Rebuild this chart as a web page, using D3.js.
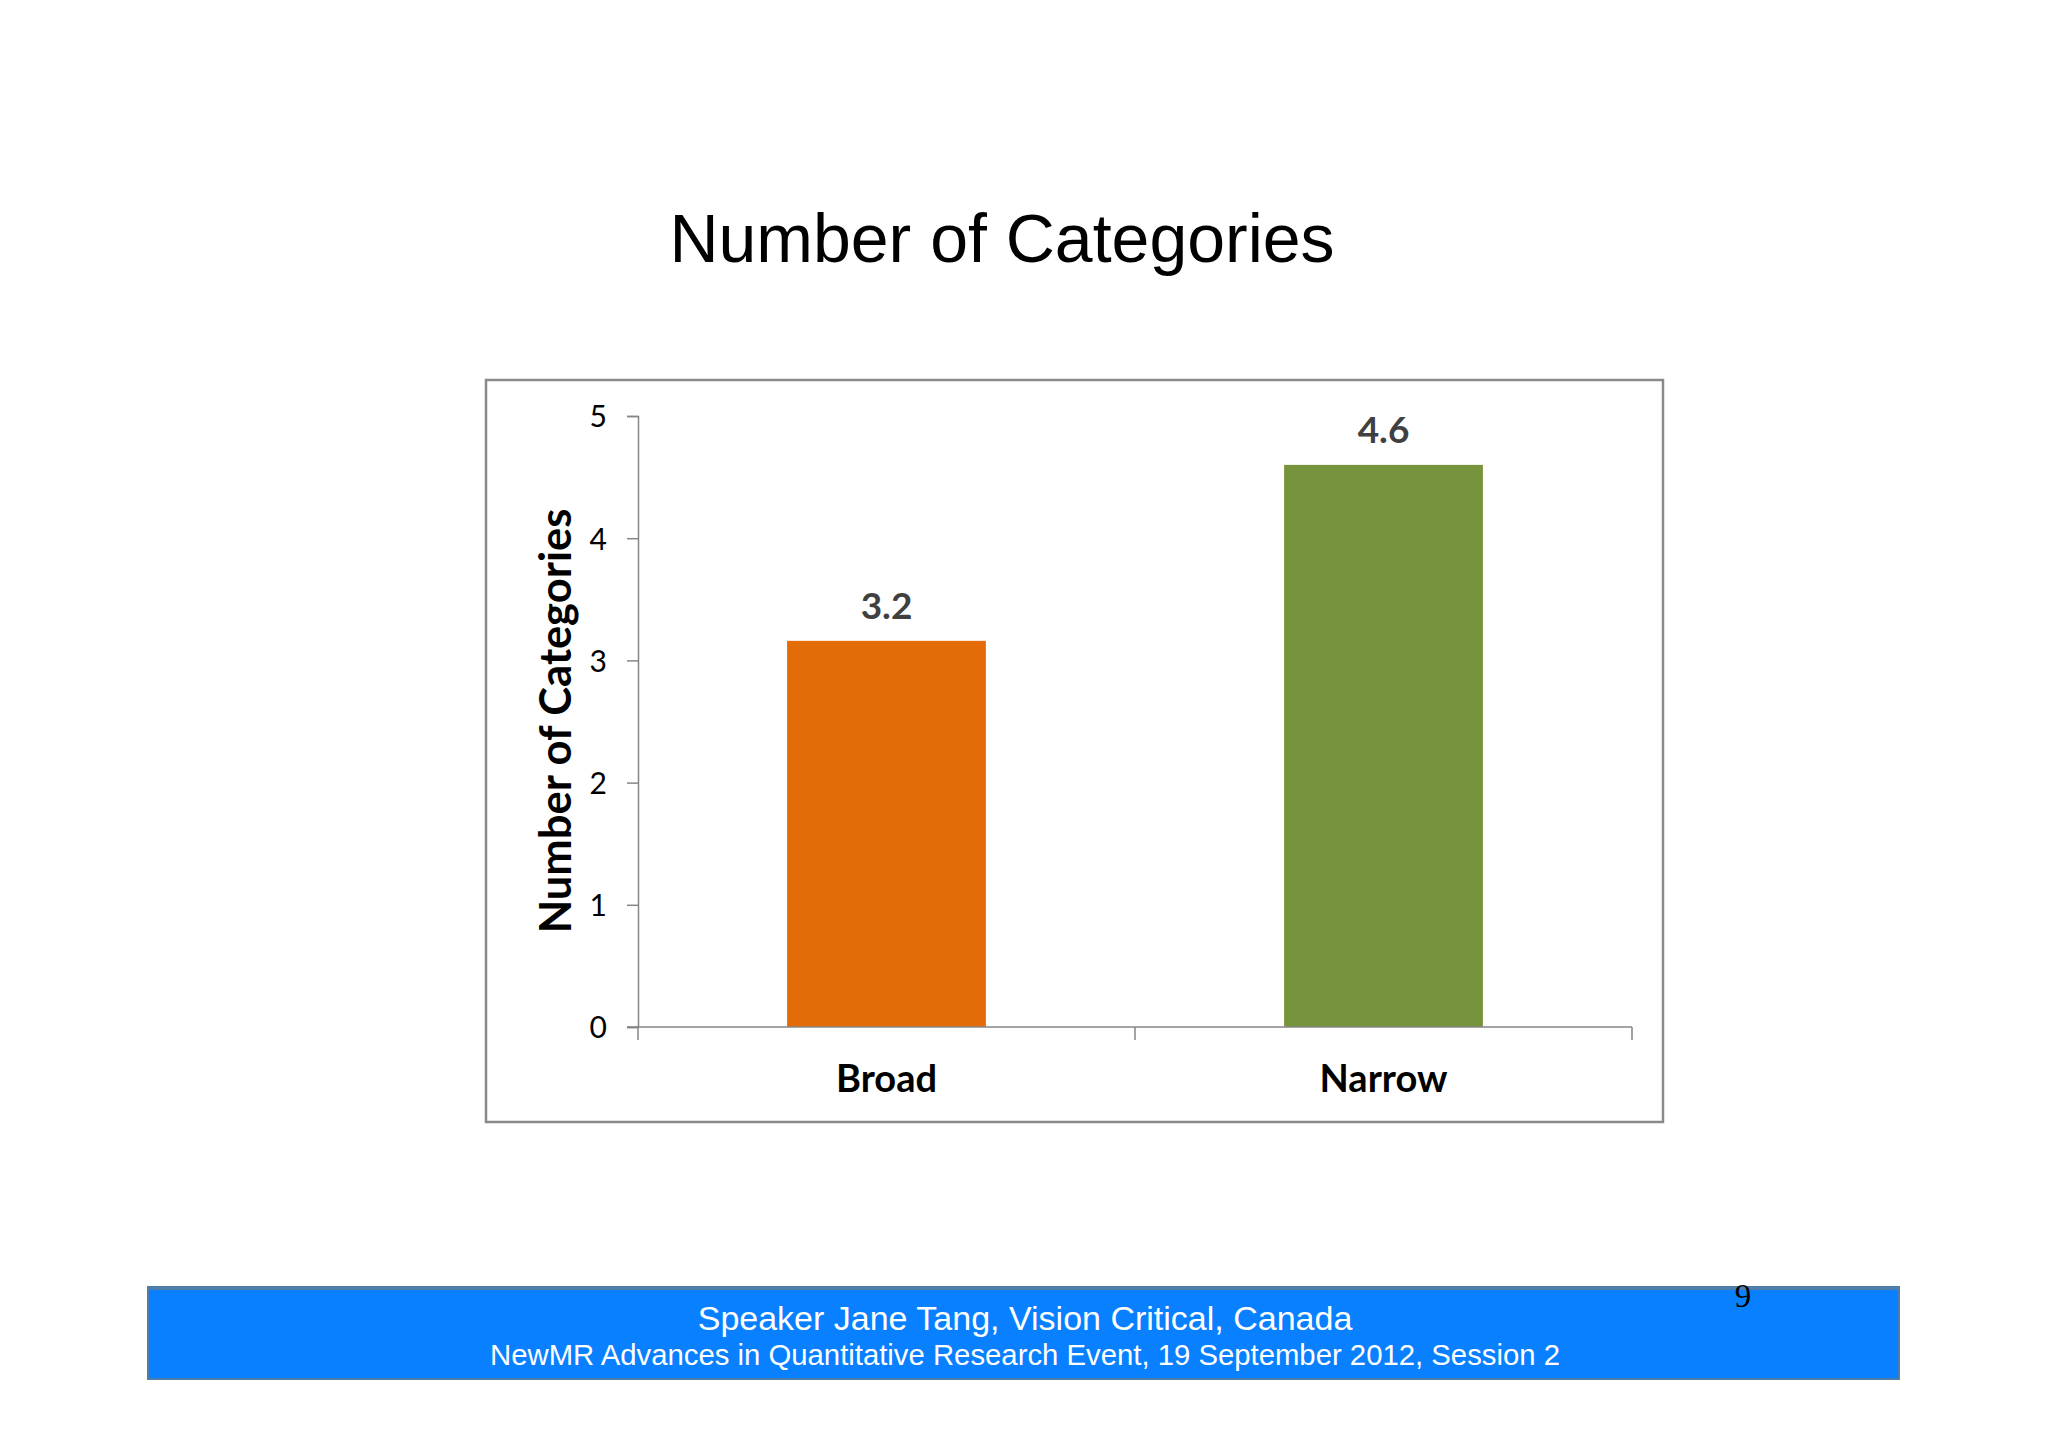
<!DOCTYPE html>
<html>
<head>
<meta charset="utf-8">
<script src="https://cdn.jsdelivr.net/npm/d3@7"></script>
<style>
  body { margin: 0; background: #ffffff; }
</style>
</head>
<body>
<div id="slide"></div>
<script>
const categories = ["Broad", "Narrow"];
const values = [3.16, 4.6];
const barColors = ["#e36c09", "#77933c"];
const yTicks = [0, 1, 2, 3, 4, 5];
const chartTitle = "Number of Categories";
const yAxisTitle = "Number of Categories";
const footerLines = [
    "Speaker Jane Tang, Vision Critical, Canada",
    "NewMR Advances in Quantitative Research Event, 19 September 2012, Session 2"
];
const pageNumber = "9";

function renderSlide(){
    const W = 2048, H = 1447;
    const plot = { left: 638, right: 1632, top: 416, bottom: 1027 };

    const svg = d3.select("#slide")
        .append("svg")
        .attr("width", W)
        .attr("height", H);

    svg.append("rect")
        .attr("width", W)
        .attr("height", H)
        .attr("fill", "#ffffff");

    // slide title
    svg.append("text")
        .attr("x", 1002)
        .attr("y", 262)
        .attr("text-anchor", "middle")
        .attr("font-family", "'Liberation Sans', Arial, sans-serif")
        .attr("font-size", 68)
        .attr("fill", "#000")
        .text(chartTitle);

    // chart frame
    svg.append("rect")
        .attr("x", 486)
        .attr("y", 380)
        .attr("width", 1177)
        .attr("height", 742)
        .attr("fill", "#ffffff")
        .attr("stroke", "#8a8a8a")
        .attr("stroke-width", 2.5);

    const x = d3.scaleBand()
        .domain(categories)
        .range([plot.left, plot.right])
        .padding(0);

    const y = d3.scaleLinear()
        .domain([0, 5])
        .range([plot.bottom, plot.top]);

    const barW = x.bandwidth() * 0.4;

    // y axis
    const yAxis = svg.append("g")
        .attr("transform", `translate(${plot.left},0)`)
        .call(d3.axisLeft(y).tickValues(yTicks).tickSize(11).tickPadding(20).tickFormat(d3.format("d")));
    yAxis.select(".domain").attr("stroke", "#868686").attr("stroke-width", 1.5);
    yAxis.selectAll(".tick line").attr("stroke", "#868686").attr("stroke-width", 1.5);
    yAxis.selectAll(".tick text")
        .attr("font-family", "Lato, 'Open Sans', sans-serif")
        .attr("font-size", 30)
        .attr("fill", "#000")
        .attr("dy", "0.36em");

    // bars
    svg.selectAll(".bar")
        .data(categories)
        .enter().append("rect")
            .attr("class", "bar")
            .attr("x", d => x(d) + x.bandwidth() / 2 - barW / 2)
            .attr("y", (d, i) => y(values[i]))
            .attr("width", barW)
            .attr("height", (d, i) => y(0) - y(values[i]))
            .attr("fill", (d, i) => barColors[i]);

    // x axis with boundary ticks
    const xAxis = svg.append("g")
        .attr("transform", `translate(0,${plot.bottom})`);
    xAxis.append("line")
        .attr("x1", plot.left - 11)
        .attr("x2", plot.right)
        .attr("stroke", "#868686")
        .attr("stroke-width", 1.5);
    const edges = categories.map(d => x(d)).concat([x(categories[categories.length - 1]) + x.step()]);
    xAxis.selectAll(".edge")
        .data(edges)
        .enter().append("line")
            .attr("class", "edge")
            .attr("x1", d => d)
            .attr("x2", d => d)
            .attr("y1", 0)
            .attr("y2", 13)
            .attr("stroke", "#868686")
            .attr("stroke-width", 1.5);
    xAxis.selectAll(".cat")
        .data(categories)
        .enter().append("text")
            .attr("class", "cat")
            .attr("x", d => x(d) + x.bandwidth() / 2)
            .attr("y", 65)
            .attr("text-anchor", "middle")
            .attr("font-family", "Lato, 'Open Sans', sans-serif")
            .attr("font-weight", "bold")
            .attr("font-size", 38)
            .attr("fill", "#000")
            .text(d => d);

    // value labels
    svg.selectAll(".val")
        .data(categories)
        .enter().append("text")
            .attr("class", "val")
            .attr("x", d => x(d) + x.bandwidth() / 2)
            .attr("y", (d, i) => y(values[i]) - 22)
            .attr("text-anchor", "middle")
            .attr("font-family", "Lato, 'Open Sans', sans-serif")
            .attr("font-weight", "bold")
            .attr("font-size", 37)
            .attr("fill", "#404040")
            .text((d, i) => d3.format(".1f")(values[i]));

    // y axis title
    svg.append("text")
        .attr("transform", "translate(571,721) rotate(-90)")
        .attr("text-anchor", "middle")
        .attr("font-family", "Lato, 'Open Sans', sans-serif")
        .attr("font-weight", "bold")
        .attr("font-size", 43.5)
        .attr("fill", "#000")
        .text(yAxisTitle);

    // footer band
    svg.append("rect")
        .attr("x", 148)
        .attr("y", 1287)
        .attr("width", 1751)
        .attr("height", 92)
        .attr("fill", "#0880ff")
        .attr("stroke", "#4f7eab")
        .attr("stroke-width", 2);
    svg.append("line")
        .attr("x1", 147)
        .attr("x2", 1900)
        .attr("y1", 1288)
        .attr("y2", 1288)
        .attr("stroke", "#4f7eab")
        .attr("stroke-width", 4);

    svg.selectAll(".foot")
        .data(footerLines)
        .enter().append("text")
            .attr("class", "foot")
            .attr("x", 1025)
            .attr("y", (d, i) => i === 0 ? 1330 : 1365)
            .attr("text-anchor", "middle")
            .attr("font-family", "'Liberation Sans', Arial, sans-serif")
            .attr("font-size", (d, i) => i === 0 ? 34 : 29.3)
            .attr("fill", "#ffffff")
            .text(d => d);

    svg.append("text")
        .attr("x", 1743)
        .attr("y", 1307)
        .attr("text-anchor", "middle")
        .attr("font-family", "'Liberation Serif', 'Times New Roman', serif")
        .attr("font-size", 33)
        .attr("fill", "#000")
        .text(pageNumber);
}
renderSlide();
</script>
</body>
</html>
